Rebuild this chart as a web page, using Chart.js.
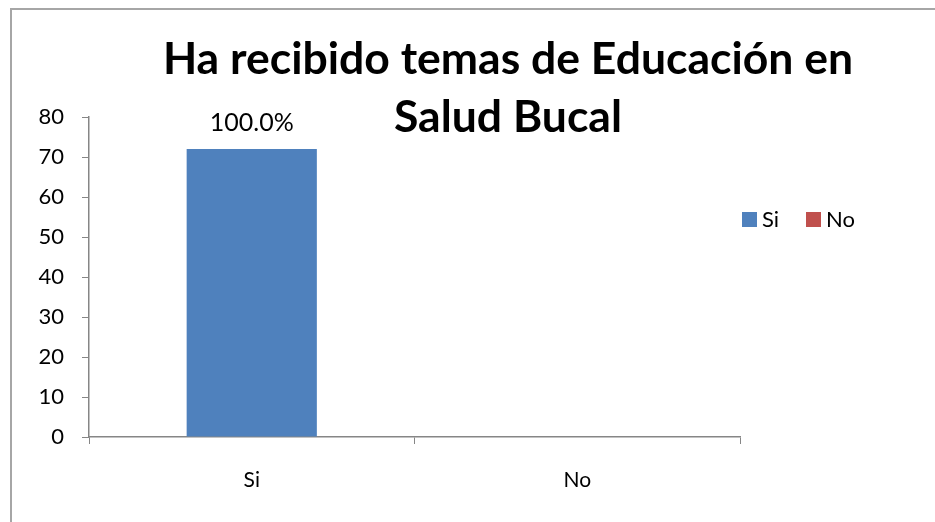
<!DOCTYPE html>
<html>
<head>
<meta charset="utf-8">
<script src="https://cdn.jsdelivr.net/npm/chart.js@4.4.0/dist/chart.umd.min.js"></script>
<style>
  body { margin: 0; background: #fff; }
  #frame { position: absolute; left: 10px; top: 8px; width: 925px; height: 514px;
           border-left: 2px solid #a6a6a6; border-top: 2px solid #a6a6a6; }
  canvas { position: absolute; left: 0; top: 0; }
</style>
</head>
<body>
<div id="frame"></div>
<canvas id="chart" width="935" height="522"></canvas>
<script>
var categories = ['Si', 'No'];
var counts = [72, 0];
var barColors = ['#4F81BD', '#C0504D'];
var yMin = 0, yMax = 80, yStep = 10;
var titleLines = ['Ha recibido temas de Educación en', 'Salud Bucal'];

var FONT = 'Lato, "Open Sans", sans-serif';
var total = counts.reduce((a, b) => a + b, 0);

// title drawn by hand: it overlaps the plot area like the original
const titlePlugin = {
    id: 'bigTitle',
    afterDraw(chart) {
        const c = chart.ctx;
        c.save();
        c.font = 'bold 44.5px ' + FONT;
        c.fillStyle = '#000';
        c.textAlign = 'center';
        c.textBaseline = 'alphabetic';
        c.fillText(titleLines[0], 508, 74);
        c.fillText(titleLines[1], 508, 132);
        c.restore();
    }
};

// percentage above each non-zero bar
const labelPlugin = {
    id: 'pctLabels',
    afterDatasetsDraw(chart) {
        const c = chart.ctx;
        const meta = chart.getDatasetMeta(0);
        c.save();
        c.font = '25px ' + FONT;
        c.fillStyle = '#000';
        c.textAlign = 'center';
        c.textBaseline = 'alphabetic';
        meta.data.forEach((bar, i) => {
            if (counts[i] > 0) {
                var pct = (counts[i] / total * 100).toFixed(1) + '%';
                c.fillText(pct, bar.x, bar.y - 18);
            }
        });
        c.restore();
    }
};

// horizontal legend on the right, one entry per category
const legendPlugin = {
    id: 'sideLegend',
    afterDraw(chart) {
        const c = chart.ctx;
        c.save();
        c.font = '22px ' + FONT;
        c.textBaseline = 'middle';
        c.textAlign = 'left';
        var x = 742;
        categories.forEach((cat, i) => {
            c.fillStyle = barColors[i];
            c.fillRect(x, 212, 15, 15);
            c.fillStyle = '#000';
            c.fillText(cat, x + 20, 220);
            x += 64;
        });
        c.restore();
    }
};

const ctx = document.getElementById('chart').getContext('2d');

var mychart = new Chart(ctx, {
    type: 'bar',
    data: {
        labels: categories,
        datasets: [{
            label: 'Ha recibido temas',
            data: counts,
            backgroundColor: barColors,
            borderWidth: 0,
            barPercentage: 0.4,
            categoryPercentage: 1.0
        }]
    },
    options: {
        responsive: false,
        animation: false,
        layout: { padding: { left: 0, top: 117, right: 195, bottom: 0 } },
        plugins: {
            legend: { display: false },
            title: { display: false },
            tooltip: { enabled: false }
        },
        scales: {
            x: {
                afterFit(scale) { scale.height = 85; },
                grid: { offset: true, drawOnChartArea: false, tickLength: 7, color: '#868686' },
                border: { color: '#868686', width: 1.5 },
                ticks: { color: '#000', font: { family: FONT, size: 21 }, padding: 24 }
            },
            y: {
                min: yMin,
                max: yMax,
                afterFit(scale) { scale.width = 89; },
                grid: { drawOnChartArea: false, tickLength: 7, color: '#868686' },
                border: { color: '#868686', width: 1.5 },
                ticks: { stepSize: yStep, color: '#000', font: { family: FONT, size: 22 }, padding: 18 }
            }
        }
    },
    plugins: [titlePlugin, labelPlugin, legendPlugin]
});
</script>
</body>
</html>
